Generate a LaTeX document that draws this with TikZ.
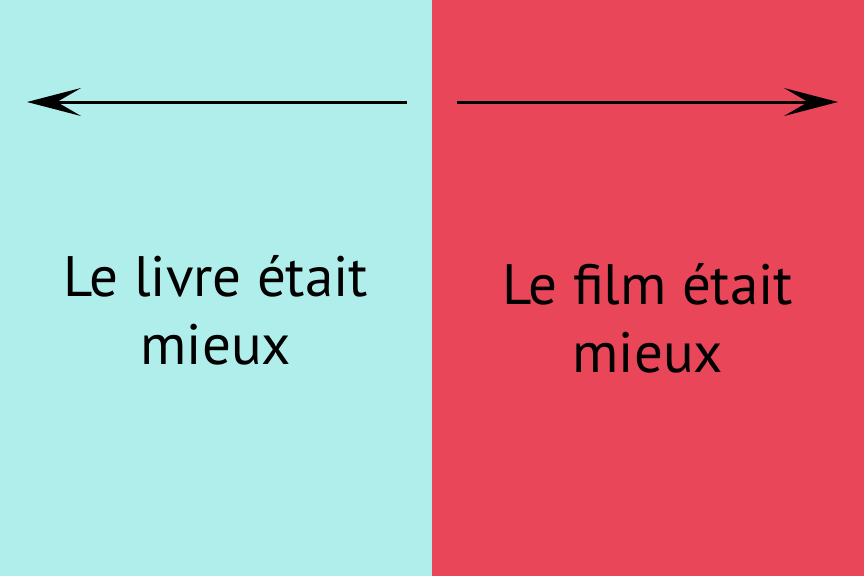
\documentclass[tikz,border=0pt]{standalone}
\usepackage{fontspec}
\setmainfont{PT Sans}
\usetikzlibrary{arrows.meta}
\definecolor{livrebg}{HTML}{AFEEEA}
\definecolor{filmbg}{HTML}{E9465A}
\begin{document}
\begin{tikzpicture}[x=1pt, y=-1pt,
  every node/.style={font=\fontsize{57}{68}\selectfont, align=center},
  side/.style={line width=3pt, -{Stealth[length=54pt, width=28pt, inset=24pt]}}]
  \useasboundingbox (0,0) rectangle (864,576);

  % panels
  \fill[livrebg] (0,0) rectangle (432,576);
  \fill[filmbg] (432,0) rectangle (864,576);

  % arrows
  \coordinate (livrestart) at (407,102);
  \coordinate (livreend) at (27,102);
  \coordinate (filmstart) at (457,102);
  \coordinate (filmend) at (838,102);
  \draw[side] (livrestart) -- (livreend);
  \draw[side] (filmstart) -- (filmend);

  % labels
  \node (livre) at (216,310) {Le livre était\\mieux};
  \node (film) at (648,318) {Le film était\\mieux};
\end{tikzpicture}
\end{document}
